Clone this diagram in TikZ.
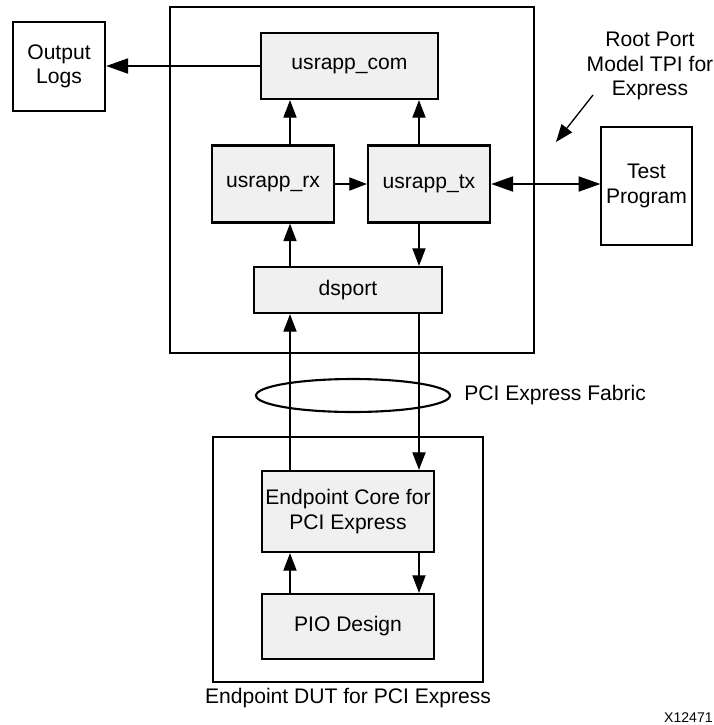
\documentclass[tikz,border=0pt]{standalone}
\usepackage{fontspec}
\setmainfont{Liberation Sans}
\usepackage{tikz}
\usetikzlibrary{arrows.meta,positioning,shapes.geometric,calc}
\usepackage{xcolor}
\definecolor{boxgray}{RGB}{240,240,240}

\begin{document}
\begin{tikzpicture}[x=0.02cm, y=-0.02cm, every node/.style={align=center,font=\fontsize{12}{14}\selectfont,inner sep=0pt}, blk/.style={rectangle,draw,line width=1.3pt,fill=boxgray}, outer/.style={rectangle,draw,line width=1.5pt}, plain/.style={rectangle,draw,line width=0.6pt}, link/.style={-{Triangle[length=10pt,width=7.5pt]},line width=0.75pt}, biglink/.style={-{Triangle[length=12.5pt,width=8.5pt]},line width=1.3pt}]
  \useasboundingbox (0,0) rectangle (714,725);
  \node[outer,minimum width=7.28cm,minimum height=6.92cm] (root) at (352,180) {};
  \node[outer,minimum width=5.4cm,minimum height=4.9cm] (dut) at (348,559.5) {};
  \node[blk,minimum width=3.54cm,minimum height=1.32cm] (com) at (349.5,66) {usrapp\_com};
  \node[blk,minimum width=2.44cm,minimum height=1.54cm] (rx) at (273,184) {usrapp\_rx};
  \node[blk,minimum width=2.44cm,minimum height=1.54cm] (tx) at (429,184) {usrapp\_tx};
  \node[blk,minimum width=3.76cm,minimum height=0.92cm] (dsport) at (348,290) {dsport};
  \node[outer,line width=1.3pt,minimum width=1.84cm,minimum height=1.78cm] (logs) at (59,66.5) {Output\\Logs};
  \node[plain,minimum width=1.82cm,minimum height=2.36cm] (test) at (646.5,186) {Test\\Program};
  \node (rootlbl) at (650,66) {Root Port\\Model TPI for\\Express};
  \node[ellipse,draw,line width=1.2pt,minimum width=3.88cm,minimum height=0.66cm] (fabric) at (353,395.5) {};
  \node[anchor=west] (fabriclbl) at (464,395) {PCI Express Fabric};
  \node[blk,minimum width=3.44cm,minimum height=1.62cm] (core) at (348,511.5) {Endpoint Core for\\PCI Express};
  \node[blk,minimum width=3.44cm,minimum height=1.3cm] (pio) at (348,626.5) {PIO Design};
  \node (dutlbl) at (348,698) {Endpoint DUT for PCI Express};
  \node[anchor=east,font=\fontsize{8}{10}\selectfont] (fignum) at (713,718) {X12471};
  \coordinate (lanel) at (290,0);
  \coordinate (laner) at (419,0);
  \coordinate (rpa) at (593,95);
  \coordinate (rpb) at (556,142);
  \draw[biglink] (com.west) -- (com.west -| logs.east);
  \draw[biglink,{Triangle[length=12.5pt,width=8.5pt]}-{Triangle[length=12.5pt,width=8.5pt]}] (tx.east) -- (tx.east -| test.west);
  \draw[link] (rx.north -| lanel) -- (com.south -| lanel);
  \draw[link] (tx.north -| laner) -- (com.south -| laner);
  \draw[link] (rx.east) -- (rx.east -| tx.west);
  \draw[link] (dsport.north -| lanel) -- (rx.south -| lanel);
  \draw[link] (tx.south -| laner) -- (dsport.north -| laner);
  \draw[link] (core.north -| lanel) -- (dsport.south -| lanel);
  \draw[link] (dsport.south -| laner) -- (core.north -| laner);
  \draw[link] (pio.north -| lanel) -- (core.south -| lanel);
  \draw[link] (core.south -| laner) -- (pio.north -| laner);
  \draw[link] (rpa) -- (rpb);
\end{tikzpicture}
\end{document}
